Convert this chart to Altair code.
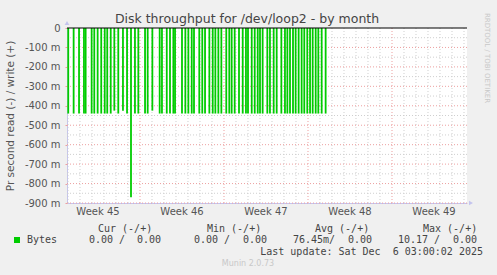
import altair as alt
import pandas as pd

# ---- data (day offsets from Mon 10 Nov 2025 00:00) ----
spike_days = [-5.98, -5.53, -5.08, -4.67, -4.53, -4.03, -3.81, -3.53, -3.23, -2.94,
              -2.73, -2.44, -2.14, -1.81, -1.42, -1.08, -0.75, -0.42, -0.14, 0.42,
              0.64, 1.03, 1.64, 1.83, 2.23, 2.50, 2.78, 2.92, 3.50, 3.78,
              4.03, 4.31, 4.50, 4.94, 5.19, 5.42, 5.78, 6.06, 6.28, 6.53,
              6.78, 7.19, 7.44, 7.64, 7.89, 8.25, 8.56, 8.83, 9.00, 9.31,
              9.56, 9.81, 10.00, 10.22, 10.61, 10.83, 11.14, 11.39, 11.78, 12.08,
              12.28, 12.50, 12.75, 12.97, 13.22, 13.47, 13.69, 13.94, 14.17, 14.39,
              14.64, 14.86, 15.14, 15.47]
spike_vals = [-440, -440, -440, -440, -440, -440, -440, -440, -440, -440,
              -440, -440, -425, -440, -425, -440, -870, -440, -440, -440,
              -440, -425, -440, -440, -440, -440, -440, -440, -440, -440,
              -440, -440, -440, -440, -440, -440, -440, -440, -440, -440,
              -440, -440, -440, -440, -440, -440, -440, -440, -440, -440,
              -440, -440, -440, -440, -440, -440, -440, -440, -440, -440,
              -440, -440, -440, -440, -440, -440, -440, -440, -440, -440,
              -440, -440, -440, -440]

week_centers = [-3.5, 3.5, 10.5, 17.5, 24.5]
week_labels = ["Week 45", "Week 46", "Week 47", "Week 48", "Week 49"]
monday_lines = [0, 7, 14, 21]
day_lines = [d for d in range(-6, 28) if d % 7 != 0]
y_ticks = list(range(-900, 1, 100))
y_major_grid = list(range(-900, 0, 100))
y_minor_grid = list(range(-850, 0, 100))

series_name = "Bytes"
cur_vals = ["0.00", "0.00"]
min_vals = ["0.00", "0.00"]
avg_vals = ["76.45m", "0.00"]
max_vals = ["10.17", "0.00"]
last_update = "Last update: Sat Dec\u00a0\u00a06 03:00:02 2025"
title_text = "Disk throughput for /dev/loop2 - by month"
y_title = "Pr second read (-) / write (+)"

# ---- layout ----
L, T = 67, 28
W, H = 400, 175
xs = alt.Scale(domain=[-73 / 12, 327 / 12], nice=False, zero=False)
ys = alt.Scale(domain=[-900, 0], nice=False, zero=False)
AXIS_BLUE = "#c4c4ee"
GRID_GRAY = "#cfcfcf"
GRID_RED = "#eda0a0"
GREEN = "#00cc00"

minor_v = alt.Chart(pd.DataFrame({"d": day_lines})).mark_rule(
    color=GRID_GRAY, strokeDash=[1, 2], strokeWidth=1
).encode(x=alt.X("d:Q", scale=xs, axis=None))

minor_h = alt.Chart(pd.DataFrame({"v": y_minor_grid})).mark_rule(
    color=GRID_GRAY, strokeDash=[1, 2], strokeWidth=1
).encode(y=alt.Y("v:Q", scale=ys, axis=None))

major_h = alt.Chart(pd.DataFrame({"v": y_major_grid})).mark_rule(
    color=GRID_RED, strokeDash=[1, 2], strokeWidth=1
).encode(y=alt.Y("v:Q", scale=ys, axis=None))

major_v = alt.Chart(pd.DataFrame({"d": monday_lines})).mark_rule(
    color=GRID_RED, strokeDash=[1, 2], strokeWidth=1
).encode(x=alt.X("d:Q", scale=xs, axis=None))

spikes = alt.Chart(pd.DataFrame({"d": spike_days, "v": spike_vals})).mark_rule(
    color=GREEN, strokeWidth=1.8
).encode(
    x=alt.X("d:Q", scale=xs, axis=alt.Axis(
        labels=False, ticks=False, grid=False, title=None,
        domainColor=AXIS_BLUE, domainWidth=1)),
    y=alt.Y("v:Q", scale=ys, axis=alt.Axis(
        values=y_ticks, grid=False, title=y_title,
        labelExpr="datum.value == 0 ? '0' : datum.value + ' m'",
        labelFont="DejaVu Sans", labelFontSize=10, labelColor="#555555",
        labelPadding=5, tickSize=2, tickColor=GRID_RED,
        domainColor=AXIS_BLUE, domainWidth=1,
        titleFont="DejaVu Sans", titleFontSize=10.5, titleFontWeight="normal",
        titleColor="#555555", titleX=-57, titleY=H / 2, titleBaseline="middle",
        titleAngle=270)),
    y2=alt.datum(0),
)

zero_line = alt.Chart(pd.DataFrame({"v": [0]})).mark_rule(
    color="black", strokeWidth=1
).encode(y=alt.Y("v:Q", scale=ys, axis=None))

weeks = alt.Chart(pd.DataFrame({"d": week_centers, "t": week_labels})).mark_text(
    font="DejaVu Sans", fontSize=10, color="#555555", baseline="middle", align="center"
).encode(x=alt.X("d:Q", scale=xs, axis=None), y=alt.value(212 - T), text="t:N")

arrow_up = alt.Chart(pd.DataFrame({"a": [0]})).mark_point(
    shape="triangle-up", filled=True, size=22, color=AXIS_BLUE, opacity=1
).encode(x=alt.value(0), y=alt.value(-5))
arrow_right = alt.Chart(pd.DataFrame({"a": [0]})).mark_point(
    shape="triangle-right", filled=True, size=22, color=AXIS_BLUE, opacity=1
).encode(x=alt.value(W + 4), y=alt.value(H))


def txt(s, x, y, align="left", font="DejaVu Sans Mono", size=10, color="#444444", angle=0):
    return alt.Chart(pd.DataFrame({"t": [s]})).mark_text(
        font=font, fontSize=size, color=color, align=align, baseline="middle", angle=angle
    ).encode(text="t:N", x=alt.value(x - L), y=alt.value(y - T))


texts = [
    txt(title_text, 247, 19, align="center", font="DejaVu Sans", size=12.5, color="#444444"),
    txt("RRDTOOL / TOBI OETIKER", 487, 58, align="center", font="DejaVu Sans", size=7,
        color="#c8c8c8", angle=90),
    txt("Cur (-/+)", 98, 229), txt("Min (-/+)", 207, 229),
    txt("Avg (-/+)", 315, 229), txt("Max (-/+)", 423, 229),
    txt(series_name, 27, 240),
    txt(cur_vals[0] + " /", 89, 240), txt(cur_vals[1], 161, 240, align="right"),
    txt(min_vals[0] + " /", 194, 240), txt(min_vals[1], 267, 240, align="right"),
    txt(avg_vals[0] + "/", 293, 240), txt(avg_vals[1], 372, 240, align="right"),
    txt(max_vals[0] + " /", 398, 240), txt(max_vals[1], 477, 240, align="right"),
    txt(last_update, 483, 252, align="right"),
    txt("Munin 2.0.73", 248, 264, align="center", font="DejaVu Sans", size=8, color="#c8c8c8"),
]

legend_sq = alt.Chart(pd.DataFrame({"a": [0]})).mark_square(
    size=36, color=GREEN, opacity=1
).encode(x=alt.value(17 - L), y=alt.value(240 - T))

chart = alt.layer(
    minor_v, minor_h, major_h, major_v, spikes, zero_line, weeks,
    arrow_up, arrow_right, legend_sq, *texts
).resolve_axis(
    x="independent", y="independent"
).properties(
    width=W, height=H,
    autosize=alt.AutoSizeParams(type="none"),
    padding={"left": L, "top": T, "right": 497 - L - W, "bottom": 275 - T - H},
    background="#f0f0f0",
).configure_view(fill="white", stroke=None)

chart.save("out.html", embed_options={"renderer": "svg", "actions": False})
